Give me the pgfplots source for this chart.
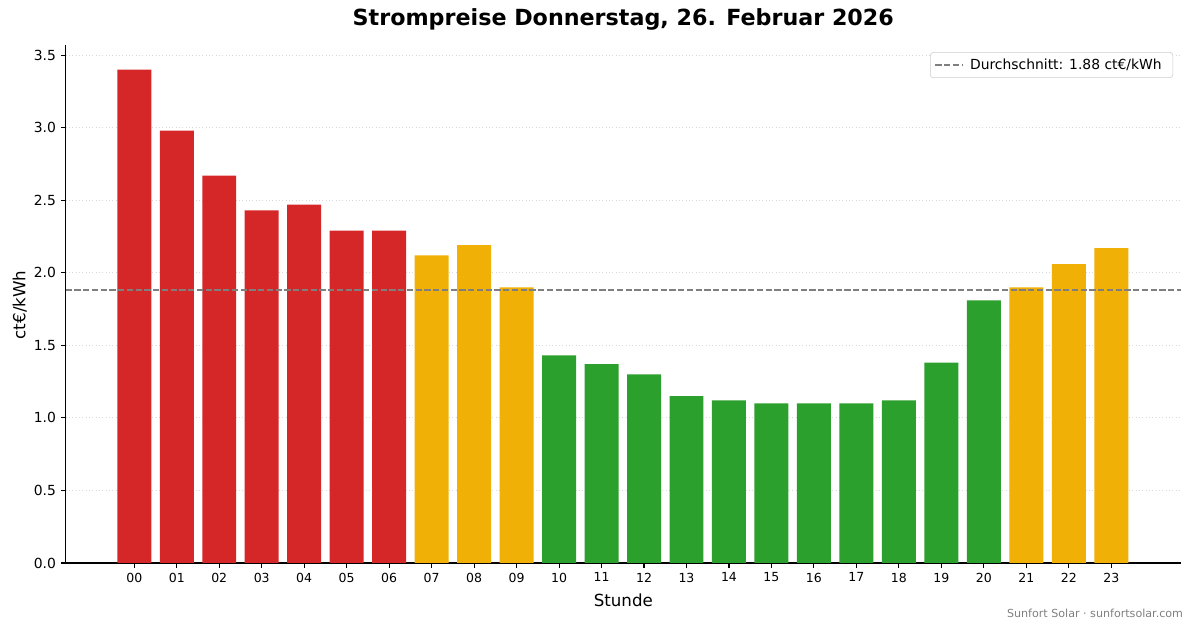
\documentclass[border=0pt]{standalone}
\usepackage{fontspec}
\setmainfont{DejaVu Sans}
\usepackage{pgfplots}
\usepackage{pgfplotstable}
\pgfplotsset{compat=1.18}

\definecolor{barred}{HTML}{D62728}
\definecolor{barorange}{HTML}{F0B005}
\definecolor{bargreen}{HTML}{2CA02C}
\definecolor{meangray}{HTML}{7F7F7F}

% hour, price in ct/kWh
\pgfplotstableread{
x y
0 3.40
1 2.98
2 2.67
3 2.43
4 2.47
5 2.29
6 2.29
}\redbars
\pgfplotstableread{
x y
7 2.12
8 2.19
9 1.90
21 1.90
22 2.06
23 2.17
}\orangebars
\pgfplotstableread{
x y
10 1.43
11 1.37
12 1.30
13 1.15
14 1.12
15 1.10
16 1.10
17 1.10
18 1.12
19 1.38
20 1.81
}\greenbars

\begin{document}
\begin{tikzpicture}
\begin{axis}[
    at={(0,0)}, anchor=south west,
    scale only axis, clip=false,
    width=803pt, height=373pt,
    xmin=-1.615, xmax=24.64,
    ymin=0, ymax=3.57,
    axis lines=left,
    axis line style={-, line width=0.8pt},
    tick align=outside,
    major tick length=3.5pt,
    tick style={line width=0.8pt, black},
    xtick={0,...,23},
    xticklabels={00,01,02,03,04,05,06,07,08,09,10,11,12,13,14,15,16,17,18,19,20,21,22,23},
    ytick={0,0.5,...,3.5},
    y tick label style={/pgf/number format/fixed, /pgf/number format/fixed zerofill, /pgf/number format/precision=1, /pgf/number format/assume math mode=true, font=\fontsize{10}{12}\selectfont},
    x tick label style={font=\fontsize{9}{11}\selectfont},
    ymajorgrids,
    grid style={dotted, line width=0.6pt, black!15},
    xlabel={Stunde},
    ylabel={ct€/kWh},
    label style={font=\fontsize{12}{14}\selectfont},
    xlabel style={at={(axis description cs:0.5,-0.0714)}, anchor=center},
    ylabel style={at={(axis description cs:-0.0412,0.498)}, anchor=center},
    legend style={at={(axis description cs:0.993,0.986)}, anchor=north east,
        draw=black!20, rounded corners=2pt, fill=white,
        font=\fontsize{10}{12}\selectfont, inner xsep=3pt, inner ysep=2.5pt,
        nodes={inner xsep=5pt}},
    legend cell align=left,
    legend image code/.code={\draw[#1] (0cm,0cm) -- (0.68cm,0cm);},
]
\addplot[ybar, bar width=0.8, bar shift=0pt, fill=barred, draw=none, forget plot] table {\redbars};
\addplot[ybar, bar width=0.8, bar shift=0pt, fill=barorange, draw=none, forget plot] table {\orangebars};
\addplot[ybar, bar width=0.8, bar shift=0pt, fill=bargreen, draw=none, forget plot] table {\greenbars};
\addplot[meangray, line width=1.2pt, dash pattern=on 4.4pt off 1.9pt, mark=none] coordinates {(-1.615,1.88) (24.64,1.88)};
\addlegendentry{Durchschnitt: 1.88 ct€/kWh}
\node[font=\bfseries\fontsize{16}{19}\selectfont, anchor=center] at (axis description cs:0.5,1.050) {Strompreise Donnerstag, 26. Februar 2026};
\node[font=\fontsize{8}{10}\selectfont, text=black!50, anchor=east, xshift=3.6pt] at (axis description cs:1.0018,-0.0965) {Sunfort Solar · sunfortsolar.com};
\end{axis}
\pgfresetboundingbox
\path[use as bounding box] (-47.3pt,-46.8pt) rectangle (811.7pt,405.36pt);
\end{tikzpicture}
\end{document}
